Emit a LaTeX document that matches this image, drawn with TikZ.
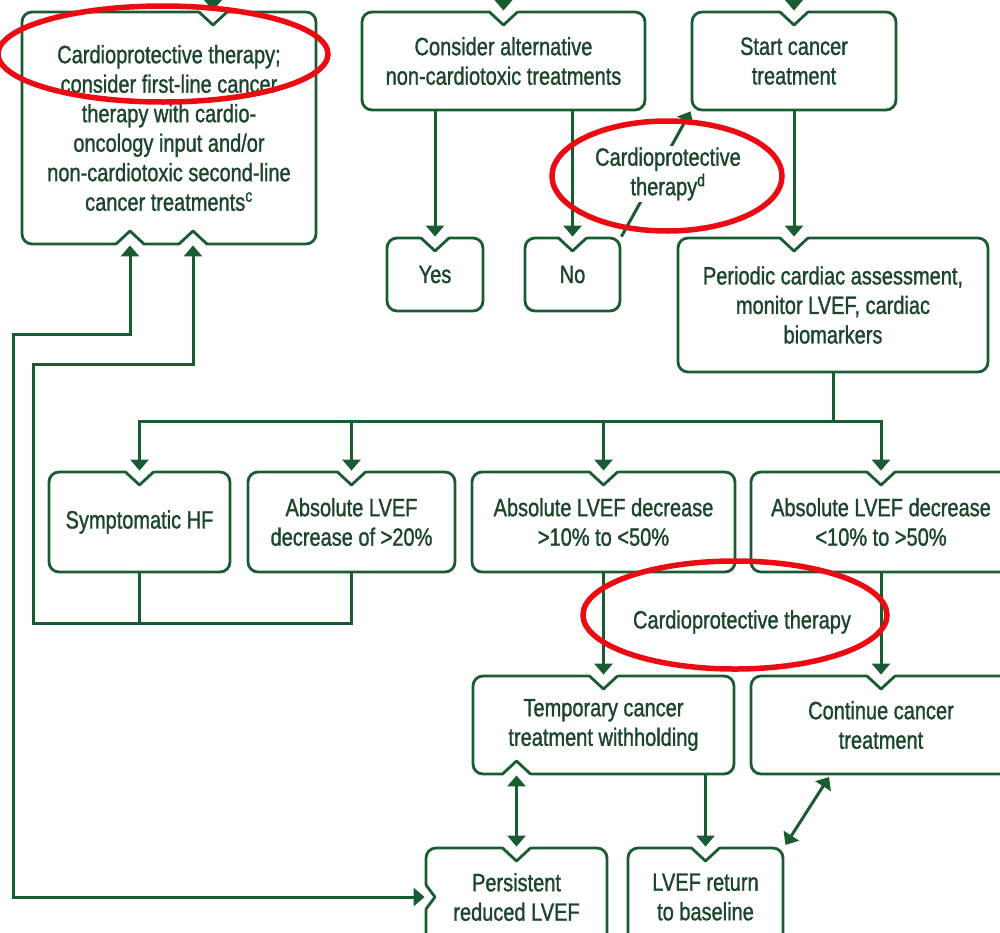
\documentclass[tikz,border=0pt]{standalone}
\usepackage{fontspec}
\setmainfont{Liberation Sans}[FakeStretch=0.8, FakeBold=1.2]
\usetikzlibrary{arrows.meta,calc}
\definecolor{grn}{RGB}{26,92,50}
\definecolor{txt}{RGB}{28,70,44}
\definecolor{ring}{RGB}{234,12,18}

\tikzset{
  flow/.style={draw=grn, line width=2.8pt, rounded corners=10pt, align=center,
    text=txt, inner sep=0pt, font=\fontsize{25}{29.5}\selectfont},
  edge/.style={draw=grn, line width=2.8pt, line join=round, line cap=round},
  conn/.style={draw=grn, line width=3pt},
  arr/.style={conn, -{Triangle[width=18pt,length=11pt]}},
  darr/.style={conn, {Triangle[width=18pt,length=11pt]}-{Triangle[width=18pt,length=11pt]}},
  lbl/.style={text=txt, align=center, inner sep=2pt, font=\fontsize{25}{29.5}\selectfont},
  ringline/.style={draw=ring, line width=5.5pt},
}

% notch in a top edge, pointing into the box
\newcommand\topnotch[2]{%
  \fill[white] (#1-14,#2-3) rectangle (#1+14,#2+3);
  \draw[edge] (#1-14,#2) -- (#1,#2+13) -- (#1+14,#2);}
% notch in a bottom edge, pointing into the box
\newcommand\botnotch[2]{%
  \fill[white] (#1-14,#2-3) rectangle (#1+14,#2+3);
  \draw[edge] (#1-14,#2) -- (#1,#2-13) -- (#1+14,#2);}
% notch in a left edge, pointing into the box
\newcommand\leftnotch[2]{%
  \fill[white] (#1-3,#2-12) rectangle (#1+3,#2+12);
  \draw[edge] (#1,#2-12) -- (#1+9,#2) -- (#1,#2+12);}

\begin{document}
\begin{tikzpicture}[x=1pt,y=-1pt]
\useasboundingbox (0,0) rectangle (1000,932);
\clip (0,0) rectangle (1000,932);

% boxes
\node[flow, minimum width=294pt, minimum height=232pt] (A) at (169,128)
  {\raisebox{0pt}[\height][\depth]{}Cardioprotective therapy;\\consider first-line cancer\\therapy with cardio-\\oncology input and/or\\non-cardiotoxic second-line\\cancer treatments\textsuperscript{c}};
\node[flow, minimum width=283pt, minimum height=98pt] (B) at (503.5,61)
  {Consider alternative\\non-cardiotoxic treatments};
\node[flow, minimum width=204pt, minimum height=98pt] (C) at (794,61)
  {Start cancer\\treatment};
\node[flow, minimum width=96pt, minimum height=73pt] (Yes) at (435,274.5) {Yes};
\node[flow, minimum width=95pt, minimum height=73pt] (No) at (572.5,274.5) {No};
\node[flow, minimum width=310pt, minimum height=134pt] (D) at (833,305)
  {Periodic cardiac assessment,\\monitor LVEF, cardiac\\biomarkers};
\node[flow, minimum width=181pt, minimum height=100pt] (HF) at (139.5,522) {Symptomatic HF};
\node[flow, minimum width=207pt, minimum height=100pt] (G20) at (351.5,522)
  {Absolute LVEF\\decrease of >20\%};
\node[flow, minimum width=263pt, minimum height=100pt] (Mid) at (603.5,522)
  {Absolute LVEF decrease\\>10\% to <50\%};
\node[flow, minimum width=260pt, minimum height=100pt] (Low) at (881,522)
  {Absolute LVEF decrease\\<10\% to >50\%};
\node[flow, minimum width=261pt, minimum height=98pt] (Temp) at (603.5,725)
  {Temporary cancer\\treatment withholding};
\node[flow, minimum width=260pt, minimum height=98pt] (Cont) at (881,725)
  {Continue cancer\\treatment};
\node[flow, minimum width=181pt, minimum height=98pt] (Pers) at (516.5,897)
  {Persistent\\reduced LVEF};
\node[flow, minimum width=155pt, minimum height=98pt] (Base) at (705.5,897)
  {LVEF return\\to baseline};

% notches
\topnotch{213}{12}
\topnotch{503.5}{12}
\topnotch{794}{12}
\topnotch{435}{238}
\topnotch{572.5}{238}
\topnotch{794}{238}
\topnotch{139.5}{472}
\topnotch{351.5}{472}
\topnotch{603.5}{472}
\topnotch{881}{472}
\topnotch{603.5}{676}
\topnotch{881}{676}
\topnotch{516.5}{848}
\topnotch{705.5}{848}
\botnotch{130}{244}
\botnotch{193}{244}
\botnotch{516.5}{774}
\leftnotch{426}{897}

% incoming arrows from above
\coordinate (inA) at (213,-30);
\coordinate (inB) at (503.5,-30);
\coordinate (inC) at (794,-30);
\draw[arr] (inA) -- (inA |- A.north);
\draw[arr] (inB) -- (B.north);
\draw[arr] (inC) -- (C.north);

% decision branches
\draw[arr] (Yes.north |- B.south) -- (Yes.north);
\draw[arr] (No.north |- B.south) -- (No.north);
\draw[arr] (No.north east) -- node[lbl, fill=white, pos=0.5, xshift=12pt]
  {Cardioprotective\\therapy\textsuperscript{d}} (C.south west);
\draw[arr] (C.south) -- (C.south |- D.north);

% monitoring bus
\coordinate (bus) at (833,421);
\draw[conn] (D.south) -- (bus);
\draw[arr] (bus) -| (HF.north);
\draw[arr] (bus) -| (G20.north);
\draw[arr] (bus) -| (Mid.north);
\draw[arr] (bus) -| (Low.north);

% back to cardioprotective therapy
\coordinate (j) at (33,623);
\coordinate (jA) at (193,364);
\coordinate (kA) at (130,334);
\coordinate (k) at (13,897);
\draw[conn] (HF.south) -- (HF.south |- j);
\draw[arr] (G20.south) |- (j) |- (jA) -- (jA |- A.south);
\draw[darr] (kA |- A.south) -- (kA) -| (k) -- (Pers.west);

% lower branches
\draw[arr] (Mid.south) -- (Temp.north);
\draw[arr] (Low.south) -- (Cont.north);
\node[lbl] (cpt) at (742,622) {Cardioprotective therapy};
\draw[darr] (Temp.south -| Pers.north) -- (Pers.north);
\draw[arr] (Base.north |- Temp.south) -- (Base.north);
\coordinate (cb) at (829,777);
\draw[darr, shorten >=2pt] (cb) -- (Base.north east);

% highlight rings
\draw[ringline] (163,54) ellipse [x radius=165, y radius=48];
\draw[ringline] (667,176) ellipse [x radius=115, y radius=55];
\draw[ringline] (735,615) ellipse [x radius=152, y radius=54];
\end{tikzpicture}
\end{document}
